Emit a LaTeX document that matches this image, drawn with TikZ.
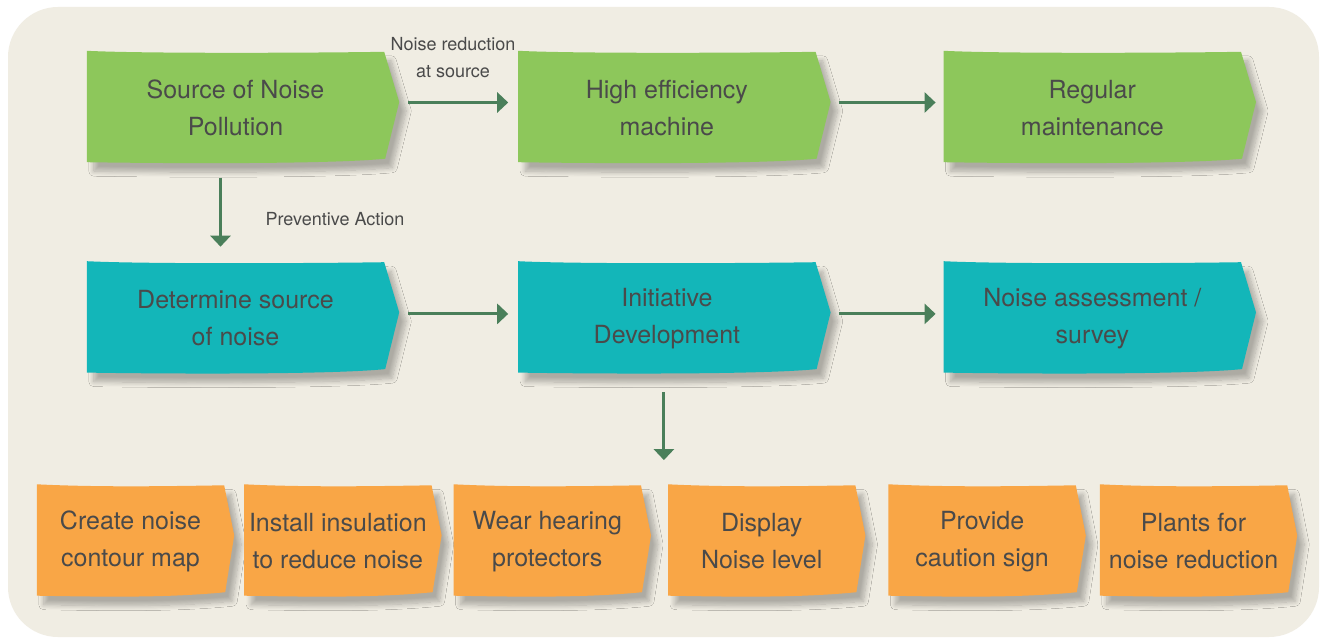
\documentclass[tikz,border=0pt]{standalone}
\usepackage{fontspec}
\setmainfont{TeX Gyre Heros}
\usetikzlibrary{arrows.meta,positioning,backgrounds,shadows.blur}
\definecolor{ink}{HTML}{4A4A4A}
\definecolor{panel}{HTML}{F0EDE3}
\definecolor{leaf}{HTML}{8DC75B}
\definecolor{lagoon}{HTML}{13B6B9}
\definecolor{amber}{HTML}{F9A646}
\definecolor{pine}{HTML}{4A7F5A}
\tikzset{
  tag/.style={minimum width=297pt,minimum height=111pt,inner sep=0pt,align=center,font=\fontsize{25}{37}\selectfont,text=ink},
  chip/.style={tag,minimum width=187pt},
  flow/.style={-{Triangle[length=11pt,width=20pt]},line width=3pt,draw=pine},
  cue/.style={align=center,font=\fontsize{18}{27}\selectfont,text=ink},
  paper/.style={blur shadow={shadow xshift=7pt,shadow yshift=-9pt,shadow blur radius=5pt,shadow blur steps=10,shadow opacity=28}}
}
\begin{document}
\begin{tikzpicture}[x=1pt,y=-1pt]
        \useasboundingbox (0,0) rectangle (1325,639);
        % top row
        \node[tag] (src) at (235.5,108) {Source of Noise\\Pollution};
        \node[tag,right=134pt of src] (hem) {High efficiency\\machine};
        \node[tag,right=128pt of hem] (reg) {Regular\\maintenance};
        % middle row
        \node[tag,below=99pt of src] (det) {Determine source\\of noise};
        \node[tag,below=99pt of hem] (ini) {Initiative\\Development};
        \node[tag,below=99pt of reg] (ass) {Noise assessment /\\survey};
        % bottom row
        \node[chip] (map) at (130.5,541.5) {Create noise\\contour map};
        \node[chip,right=20pt of map] (ins) {Install insulation\\to reduce noise};
        \node[chip,right=22pt of ins] (ear) {Wear hearing\\protectors};
        \node[chip,right=27pt of ear] (lvl) {Display\\Noise level};
        \node[chip,right=33pt of lvl] (sig) {Provide\\caution sign};
        \node[chip,right=24pt of sig] (pla) {Plants for\\noise reduction};
        \begin{scope}[on background layer]
          \fill[white] (0,0) rectangle (1325,639);
          \fill[panel,rounded corners=50pt] (8,7) rectangle (1319,637);
          \foreach \n/\c/\t in {src/leaf/15,hem/leaf/15,reg/leaf/15,det/lagoon/15,ini/lagoon/15,ass/lagoon/15,
                                map/amber/10,ins/amber/10,ear/amber/10,lvl/amber/10,sig/amber/10,pla/amber/10}
            \fill[\c,paper] ([yshift=1.5pt]\n.north west) .. controls +(60,3) and +(-60,1) .. ([yshift=0.5pt]\n.north east)
              -- ([xshift=\t pt,yshift=6pt]\n.east) -- ([xshift=1pt,yshift=5pt]\n.south east)
              .. controls +(-60,6) and +(60,1) .. ([yshift=1.5pt]\n.south west) -- cycle;
        \end{scope}
        % connectors
        \draw[flow,shorten <=24pt,shorten >=10pt] ([yshift=5.5pt]src.east) -- ([yshift=5.5pt]hem.west);
        \draw[flow,shorten <=23pt,shorten >=8pt] ([yshift=5.5pt]hem.east) -- ([yshift=5.5pt]reg.west);
        \draw[flow,shorten <=24pt,shorten >=10pt] ([yshift=4.5pt]det.east) -- ([yshift=4.5pt]ini.west);
        \draw[flow,shorten <=23pt,shorten >=8pt] ([yshift=4.5pt]ini.east) -- ([yshift=4.5pt]ass.west);
        \draw[flow,shorten <=14pt,shorten >=16pt] ([xshift=-15pt]src.south) -- ([xshift=-15pt]det.north);
        \coordinate[below=86pt of ini.south] (drop);
        \draw[flow,shorten <=18pt] ([xshift=-3pt]ini.south) -- ([xshift=-3pt]drop);
        \node[cue] (atsrc) at (453,58) {Noise reduction\\at source};
        \node[cue] (prev) at (335,219) {Preventive Action};
      \end{tikzpicture}
\end{document}
